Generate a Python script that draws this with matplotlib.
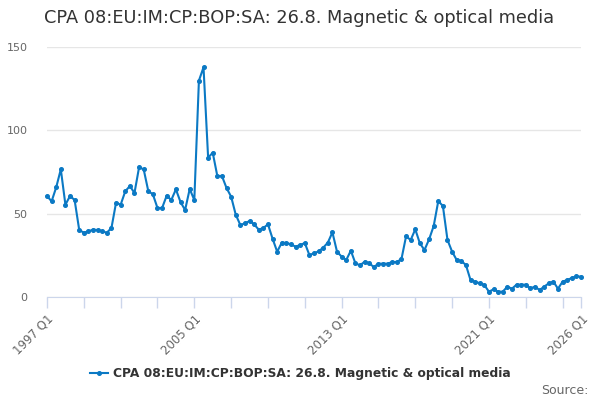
import matplotlib
matplotlib.use("Agg")
import matplotlib.pyplot as plt
import numpy as np

title = "CPA 08:EU:IM:CP:BOP:SA: 26.8. Magnetic & optical media"
start_year = 1997
values = [
    60.6, 57.4, 65.8, 76.6, 55.4, 60.6, 58.2, 40.2,
    38.6, 39.4, 40.4, 40.2, 39.4, 38.6, 41.4, 56.6,
    55.4, 63.4, 66.6, 62.4, 77.8, 76.6, 63.6, 61.6,
    53.4, 53.4, 60.8, 58.2, 64.6, 57.0, 52.2, 64.8,
    58.2, 129.8, 137.8, 83.6, 86.6, 72.6, 72.6, 65.4,
    60.2, 49.4, 43.2, 44.2, 45.6, 43.6, 40.4, 41.4,
    43.6, 35.0, 27.2, 32.6, 32.4, 31.6, 30.2, 31.2,
    32.4, 25.2, 26.2, 27.4, 29.6, 32.6, 38.8, 27.2,
    24.2, 22.2, 27.8, 20.2, 19.0, 21.2, 20.2, 18.0,
    20.0, 20.0, 20.0, 21.0, 21.0, 22.8, 36.4, 34.2,
    40.6, 32.2, 28.2, 34.6, 42.6, 57.6, 54.6, 34.2,
    27.2, 22.2, 21.6, 19.2, 10.2, 9.2, 8.2, 7.2,
    3.2, 4.6, 3.2, 3.2, 6.2, 5.0, 7.4, 7.4,
    7.4, 5.2, 6.2, 4.2, 6.2, 8.2, 9.2, 5.0,
    9.2, 10.2, 11.4, 12.4, 12.2,
]
labelled_ticks = ["1997 Q1", "2005 Q1", "2013 Q1", "2021 Q1", "2026 Q1"]
y_ticks = [0, 50, 100, 150]

labels = [f"{start_year + i // 4} Q{i % 4 + 1}" for i in range(len(values))]
x = np.arange(len(values))

color = "#0b79c4"
fig = plt.figure(figsize=(6, 4), dpi=100)
ax = fig.add_axes([47 / 600, 1 - 297 / 400, (581 - 47) / 600, (297 - 47) / 400])

ax.plot(x, values, color=color, lw=1.5, marker="o", ms=2.6, mec=color, mfc=color,
        label=title, clip_on=False, zorder=3)

ax.set_xlim(0, len(values) - 1)
ax.set_ylim(0, 150)
ax.set_yticks(y_ticks)
ax.set_yticklabels([str(v) for v in y_ticks])
ax.yaxis.grid(True, color="#e6e6e6", lw=1)
ax.set_axisbelow(True)

tick_pos = list(range(0, len(values), 8))
if tick_pos[-1] != len(values) - 1:
    tick_pos.append(len(values) - 1)
ax.set_xticks(tick_pos)
ax.set_xticklabels([labels[p] if labels[p] in labelled_ticks else "" for p in tick_pos],
                   rotation=45, ha="right", rotation_mode="anchor")

for s in ["top", "right", "left"]:
    ax.spines[s].set_visible(False)
ax.spines["bottom"].set_color("#ccd6eb")
ax.tick_params(axis="x", colors="#ccd6eb", length=8, width=1, labelcolor="#666666",
               labelsize=8.5, pad=3)
ax.tick_params(axis="y", length=0, labelcolor="#666666", labelsize=8, pad=14)

fig.text(44 / 600, 1 - 18 / 400, title, fontsize=12.8, color="#333333", va="center", ha="left")

leg = fig.legend(loc="center", bbox_to_anchor=(0.5, 1 - 374 / 400), frameon=False,
                 prop={"weight": "bold", "size": 8.8}, handlelength=1.5, handletextpad=0.4)
for t in leg.get_texts():
    t.set_color("#333333")

fig.text(589 / 600, 1 - 390 / 400, "Source:", fontsize=9, color="#666666", ha="right", va="center")

fig.savefig("out.png", dpi=100)
